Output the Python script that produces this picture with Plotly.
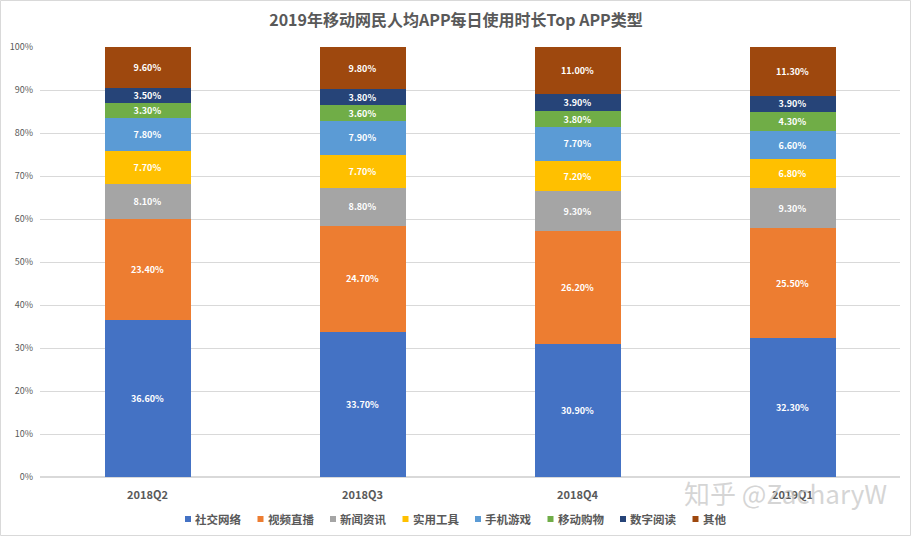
import plotly.graph_objects as go

quarters = ["2018Q2", "2018Q3", "2018Q4", "2019Q1"]
series_names = ["社交网络", "视频直播", "新闻资讯", "实用工具", "手机游戏", "移动购物", "数字阅读", "其他"]
social = [36.6, 33.7, 30.9, 32.3]
video = [23.4, 24.7, 26.2, 25.5]
news = [8.1, 8.8, 9.3, 9.3]
tools = [7.7, 7.7, 7.2, 6.8]
games = [7.8, 7.9, 7.7, 6.6]
shopping = [3.3, 3.6, 3.8, 4.3]
reading = [3.5, 3.8, 3.9, 3.9]
other = [9.6, 9.8, 11.0, 11.3]
yticks = [0, 10, 20, 30, 40, 50, 60, 70, 80, 90, 100]
ytick_labels = ["0%", "10%", "20%", "30%", "40%", "50%", "60%", "70%", "80%", "90%", "100%"]

colors = ["#4472C4", "#ED7D31", "#A5A5A5", "#FFC000", "#5B9BD5", "#70AD47", "#264478", "#9E480E"]
all_series = [social, video, news, tools, games, shopping, reading, other]

FONT = "Noto Sans CJK SC"
W, H = 912, 537
ML, MR, MT, MB = 40, 12, 47, 60
PW, PH = W - ML - MR, H - MT - MB


def px_x(p):
    return (p - ML) / PW


def px_y(p):
    return (H - MB - p) / PH


fig = go.Figure()
for name, vals, col in zip(series_names, all_series, colors):
    fig.add_trace(go.Bar(
        x=quarters, y=vals, name=name,
        marker=dict(color=col, line=dict(width=0)),
        text=[f"{v:.2f}%" for v in vals],
        textposition="inside", insidetextanchor="middle",
        textfont=dict(color="white", size=9, family=FONT, weight="bold"),
        constraintext="none",
        hoverinfo="x+y+name",
        showlegend=False,
    ))

fig.update_layout(
    barmode="stack",
    bargap=0.6,
    width=W, height=H,
    margin=dict(l=ML, r=MR, t=MT, b=MB, autoexpand=False),
    paper_bgcolor="white", plot_bgcolor="white",
    font=dict(family=FONT, color="#595959"),
    title=dict(text="<b>2019年移动网民人均APP每日使用时长Top APP类型</b>",
               x=0.5, xanchor="center", y=0.962, yanchor="middle",
               font=dict(size=16, color="#595959", family=FONT)),
    uniformtext=dict(minsize=8, mode="show"),
    showlegend=False,
)
fig.update_yaxes(range=[0, 100], tickvals=yticks, ticktext=ytick_labels,
                 showgrid=True, gridcolor="#D9D9D9", gridwidth=1,
                 zeroline=True, zerolinecolor="#D9D9D9", automargin=False,
                 tickfont=dict(size=9, color="#595959"), ticks="", showline=False,
                 ticklabelstandoff=6)
fig.update_xaxes(tickfont=dict(size=11, color="#595959", family=FONT, weight="bold"),
                 showline=False, ticks="", ticklabelstandoff=10, automargin=False)

# legend (drawn manually to match the compact Excel-style legend)
legend_start = 185
legend_step = 72.5
legend_y = 519
for i, (name, col) in enumerate(zip(series_names, colors)):
    sx = legend_start + i * legend_step
    fig.add_shape(type="rect", xref="paper", yref="paper",
                  x0=px_x(sx), x1=px_x(sx + 6), y0=px_y(legend_y + 3), y1=px_y(legend_y - 3),
                  line=dict(width=0), fillcolor=col)
    fig.add_annotation(text=f"<b>{name}</b>", x=px_x(sx + 8), y=px_y(legend_y),
                       xref="paper", yref="paper", xanchor="left", yanchor="middle",
                       showarrow=False, font=dict(size=11.5, color="#595959", family=FONT))

# watermark
fig.add_annotation(text="知乎 @ZacharyW", x=px_x(785), y=px_y(492), xref="paper", yref="paper",
                   xanchor="center", yanchor="middle",
                   showarrow=False, font=dict(size=26, color="rgba(200,200,200,0.75)", family=FONT))

# outer border
fig.add_shape(type="rect", xref="paper", yref="paper",
              x0=px_x(0.5), x1=px_x(W - 1.5), y0=px_y(H - 1.5), y1=px_y(0.5),
              line=dict(color="#D9D9D9", width=1), fillcolor="rgba(0,0,0,0)", layer="below")

fig.write_html("out.html", config={"displayModeBar": False},
               post_script="document.body.style.margin='0';")
